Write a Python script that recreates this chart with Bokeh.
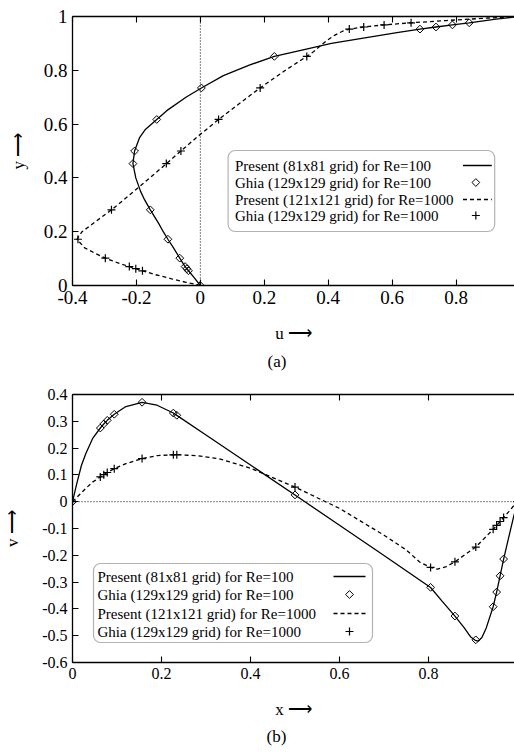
import numpy as np
from bokeh.plotting import figure
from bokeh.layouts import column
from bokeh.models import (Range1d, LinearAxis, FixedTicker, CustomJSTickFormatter,
                          Span, Label, BoxAnnotation, Title)
from bokeh.embed import file_html
from bokeh.resources import INLINE

FONT = "Liberation Serif"

# ---------------- data: panel (a), u along vertical centerline ----------------
a_p100_y = [0.0, 0.03, 0.0547, 0.0703, 0.1016, 0.14, 0.1719, 0.2, 0.23, 0.2813, 0.32, 0.35,
            0.4, 0.4531, 0.5, 0.55, 0.58, 0.6172, 0.65, 0.7, 0.7344, 0.78, 0.82, 0.8516,
            0.88, 0.9, 0.92, 0.94, 0.9531, 0.9609, 0.9688, 0.9766, 0.99, 1.0]
a_p100_u = [0.0, -0.02, -0.037, -0.0478, -0.0643, -0.084, -0.1015, -0.116, -0.13, -0.1566, -0.175, -0.187,
            -0.202, -0.2109, -0.2058, -0.19, -0.172, -0.1364, -0.105, -0.045, 0.0033, 0.072, 0.155, 0.2315,
            0.335, 0.41, 0.51, 0.615, 0.6872, 0.7372, 0.7887, 0.8412, 0.925, 1.0]

a_p1000_y = [0.0, 0.012, 0.025, 0.04, 0.0547, 0.0625, 0.0703, 0.085, 0.1016, 0.12, 0.14, 0.1719,
             0.2, 0.24, 0.2813, 0.33, 0.38, 0.4531, 0.5, 0.55, 0.6172, 0.68, 0.7344, 0.8, 0.8516,
             0.87, 0.89, 0.91, 0.93, 0.9453, 0.9531, 0.9609, 0.9688, 0.9766, 0.985, 0.993, 1.0]
a_p1000_u = [0.0, -0.045, -0.09, -0.14, -0.181, -0.202, -0.222, -0.26, -0.297, -0.33, -0.362, -0.386,
             -0.37, -0.325, -0.278, -0.228, -0.178, -0.106, -0.061, -0.012, 0.057, 0.126, 0.187, 0.266, 0.333,
             0.355, 0.375, 0.395, 0.42, 0.445, 0.466, 0.511, 0.575, 0.659, 0.77, 0.88, 1.0]

ghia_y = [1.0, 0.9766, 0.9688, 0.9609, 0.9531, 0.8516, 0.7344, 0.6172, 0.5, 0.4531,
          0.2813, 0.1719, 0.1016, 0.0703, 0.0625, 0.0547, 0.0]
ghia_u100 = [1.0, 0.84123, 0.78871, 0.73722, 0.68717, 0.23151, 0.00332, -0.13641, -0.20581,
             -0.21090, -0.15662, -0.10150, -0.06434, -0.04775, -0.04192, -0.03717, 0.0]
ghia_u1000 = [1.0, 0.65928, 0.57492, 0.51117, 0.46604, 0.33304, 0.18719, 0.05702, -0.06080,
              -0.10648, -0.27805, -0.38289, -0.29730, -0.22220, -0.20196, -0.18109, 0.0]

# ---------------- data: panel (b), v along horizontal centerline ----------------
b_solid_x = [0.0, 0.01, 0.02, 0.03, 0.045, 0.0625, 0.0703, 0.0781, 0.0938, 0.12, 0.1563, 0.19,
             0.2266, 0.2344, 0.3, 0.4, 0.5, 0.6, 0.7, 0.8047, 0.83, 0.8594, 0.88, 0.895, 0.905,
             0.912, 0.92, 0.93, 0.9453, 0.9531, 0.9609, 0.9688, 0.98, 0.99, 1.0]
b_solid_v = [0.0, 0.07, 0.135, 0.18, 0.235, 0.275, 0.29, 0.3035, 0.3263, 0.355, 0.371, 0.36,
             0.331, 0.322, 0.249, 0.137, 0.025, -0.088, -0.201, -0.32, -0.37, -0.4267, -0.47, -0.505, -0.517,
             -0.52, -0.507, -0.47, -0.3919, -0.3371, -0.2767, -0.2139, -0.135, -0.065, 0.0]

b_dash_x = [0.0, 0.015, 0.03, 0.045, 0.0625, 0.0703, 0.0781, 0.0938, 0.12, 0.1563, 0.19, 0.2266,
            0.2344, 0.28, 0.33, 0.4, 0.5, 0.6, 0.7, 0.75, 0.78, 0.8047, 0.82, 0.84, 0.8594, 0.88,
            0.9063, 0.9453, 0.9531, 0.9609, 0.9688, 0.98, 0.99, 1.0]
b_dash_v = [0.0, 0.025, 0.05, 0.073, 0.0923, 0.1009, 0.1089, 0.1232, 0.142, 0.1608, 0.172, 0.1751,
            0.1753, 0.172, 0.16, 0.125, 0.0545, -0.025, -0.125, -0.18, -0.225, -0.2453, -0.252, -0.242,
            -0.2245, -0.2, -0.1691, -0.1031, -0.0886, -0.0739, -0.0591, -0.038, -0.018, 0.0]

ghia_x = [1.0, 0.9688, 0.9609, 0.9531, 0.9453, 0.9063, 0.8594, 0.8047, 0.5, 0.2344,
          0.2266, 0.1563, 0.0938, 0.0781, 0.0703, 0.0625, 0.0]
b_diamond_v = [0.0, -0.21388, -0.27669, -0.33714, -0.39188, -0.51550, -0.42665, -0.31966,
               0.02526, 0.32235, 0.33075, 0.37095, 0.32627, 0.30353, 0.29012, 0.27485, 0.0]
b_plus_v = [0.0, -0.05906, -0.07391, -0.08864, -0.10313, -0.16914, -0.22445, -0.24533,
            0.05454, 0.17527, 0.17507, 0.16077, 0.12317, 0.10890, 0.10091, 0.09233, 0.0]

legend_labels = ["Present (81x81 grid) for Re=100",
                 "Ghia (129x129 grid) for Re=100",
                 "Present (121x121 grid) for Re=1000",
                 "Ghia (129x129 grid) for Re=1000"]

a_xticks = [-0.4, -0.2, 0.0, 0.2, 0.4, 0.6, 0.8, 1.0]
a_yticks = [0.0, 0.2, 0.4, 0.6, 0.8, 1.0]
b_xticks = [0.0, 0.2, 0.4, 0.6, 0.8, 1.0]
b_yticks = [-0.6, -0.5, -0.4, -0.3, -0.2, -0.1, 0.0, 0.1, 0.2, 0.3, 0.4]

FMT = "return (Math.round(tick*10)/10).toString();"
NOFMT = "return '';"
DIAMOND = dict(marker="square", angle=np.pi / 4, size=5.5, fill_color=None,
               line_color="black", line_width=1)
PLUS = dict(marker="cross", size=8, line_color="black", line_width=1.2)


def make_fig(height, left, top, bottom, xr, yr, xticks, yticks, fs,
             xlabel, ylabel, xl_standoff, yl_standoff, caption, cap_offset, cap_standoff):
    p = figure(width=514, height=height, output_backend="svg", toolbar_location=None,
               x_range=Range1d(*xr), y_range=Range1d(*yr),
               min_border_left=left, min_border_right=0, min_border_top=top,
               min_border_bottom=bottom, x_axis_type=None, y_axis_type=None)
    p.xgrid.visible = False
    p.ygrid.visible = False
    p.outline_line_color = None
    p.background_fill_color = "white"
    p.border_fill_color = "white"
    for place, ticks in (("below", xticks), ("left", yticks), ("above", xticks)):
        ax = LinearAxis(ticker=FixedTicker(ticks=ticks),
                        formatter=CustomJSTickFormatter(code=NOFMT if place == "above" else FMT))
        ax.major_tick_in = 6
        ax.major_tick_out = 0
        ax.minor_tick_line_color = None
        ax.axis_line_color = "black"
        ax.axis_line_width = 1.3
        ax.major_tick_line_color = "black"
        ax.major_tick_line_width = 1.1
        ax.major_label_text_font = FONT
        ax.major_label_text_color = "black"
        ax.major_label_text_font_size = f"{fs}px"
        ax.major_label_standoff = 5
        ax.axis_label_text_font = FONT
        ax.axis_label_text_font_style = "normal"
        ax.axis_label_text_color = "black"
        ax.axis_label_text_font_size = "17px"
        if place == "above":
            ax.major_label_standoff = 0
        elif place == "below":
            ax.axis_label = xlabel
            ax.axis_label_standoff = xl_standoff
        else:
            ax.axis_label = ylabel
            ax.axis_label_standoff = yl_standoff
        p.add_layout(ax, place)
    p.add_layout(Title(text=caption, align="left", offset=cap_offset, standoff=cap_standoff,
                       text_font=FONT, text_font_size="17px", text_font_style="normal",
                       text_color="black"), "below")
    return p


def add_text(p, x, y, text, size, align="center"):
    p.add_layout(Label(x=x, y=y, text=text, text_font=FONT, text_font_size=f"{size}px",
                       text_color="black", text_align=align, text_baseline="middle"))


def draw_legend(p, conv, box, rows, text_x, line_x0, line_x1, mark_x, fs):
    l, r, t, b = box
    x_l, y_t = conv(l, t)
    x_r, y_b = conv(r, b)
    p.add_layout(BoxAnnotation(left=x_l, right=x_r, top=y_t, bottom=y_b,
                               fill_alpha=0, line_color="black", line_width=1.2,
                               border_radius=7))
    for i, (lab, py) in enumerate(zip(legend_labels, rows)):
        tx, ty = conv(text_x, py)
        add_text(p, tx, ty, lab, fs, align="left")
        lx0, _ = conv(line_x0, py)
        lx1, _ = conv(line_x1, py)
        mx, _ = conv(mark_x, py)
        if i == 0:
            p.line([lx0, lx1], [ty, ty], line_color="black", line_width=1.3)
        elif i == 2:
            p.line([lx0, lx1], [ty, ty], line_color="black", line_width=1.3, line_dash="4 3")
        elif i == 1:
            p.scatter([mx], [ty], **DIAMOND)
        else:
            p.scatter([mx], [ty], **PLUS)


# ---------------- panel (a) ----------------
A_L, A_T, A_B, A_SX, A_SY = 68, 16, 285, 322.5, 269.0
A_H = 380


def conv_a(px, py):
    return -0.4 + (px - A_L) / A_SX, (A_B - py) / A_SY


pa = make_fig(A_H, A_L, A_T, A_H - A_B, (-0.4, -0.4 + (514 - A_L) / A_SX), (0.0, 1.0),
              a_xticks, a_yticks, 19, "u \u27f6", "y \u27f6", 17, 13, "(a)", 195, 8)
pa.add_layout(Span(location=0, dimension="height", line_color="black", line_width=1, line_dash="1 2"))
pa.line(a_p100_u, a_p100_y, line_color="black", line_width=1.3)
pa.line(a_p1000_u, a_p1000_y, line_color="black", line_width=1.3, line_dash="4 3")
pa.scatter(ghia_u100, ghia_y, **DIAMOND)
pa.scatter(ghia_u1000, ghia_y, **PLUS)
draw_legend(pa, conv_a, (225, 494, 150, 231), [165, 182, 199, 215], 232, 462, 491, 475, 15)

# ---------------- panel (b) ----------------
B_OFF = A_H
B_L, B_T, B_B, B_SX, B_SY = 72, 394, 662, 445.0, 268.0
B_H = 755 - A_H


def conv_b(px, py):
    return (px - B_L) / B_SX, 0.4 - (py - B_T) / B_SY


pb = make_fig(B_H, B_L, B_T - B_OFF, B_OFF + B_H - B_B, (0.0, (514 - B_L) / B_SX), (-0.6, 0.4),
              b_xticks, b_yticks, 16, "x \u27f6", "v \u27f6", 18, 17, "(b)", 194, 7)
pb.add_layout(Span(location=0, dimension="width", line_color="black", line_width=1, line_dash="1 2"))
pb.line(b_solid_x, b_solid_v, line_color="black", line_width=1.3)
pb.line(b_dash_x, b_dash_v, line_color="black", line_width=1.3, line_dash="4 3")
pb.scatter(ghia_x, b_diamond_v, **DIAMOND)
pb.scatter(ghia_x, b_plus_v, **PLUS)
draw_legend(pb, conv_b, (93, 372, 563, 642), [576, 594, 613, 631], 97, 333, 365, 349, 15)

layout = column(pa, pb, spacing=0)
open("out.html", "w").write(file_html(layout, INLINE))
